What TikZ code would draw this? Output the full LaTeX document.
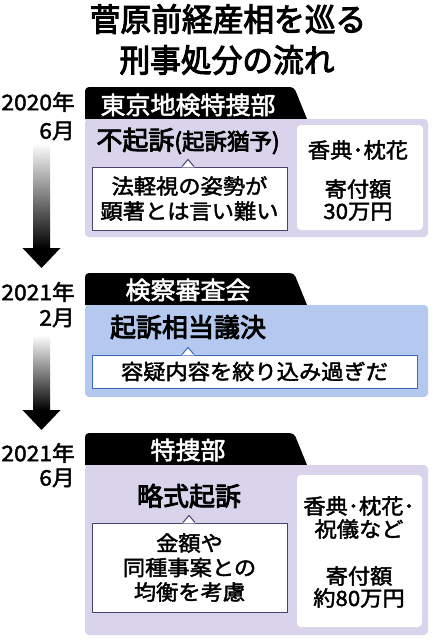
\documentclass[tikz,border=0pt]{standalone}
\usepackage{fontspec}
\setmainfont{Noto Sans CJK JP}[FakeStretch=1.06,FakeBold=2]
\newfontfamily\titlefont{Noto Sans CJK JP}[FakeStretch=0.96,FakeBold=3.2]
\newfontfamily\headfont{Noto Sans CJK JP}[FakeStretch=1.0,FakeBold=3.2]
\newfontfamily\tabfont{Noto Sans CJK JP}[FakeStretch=1.02,FakeBold=2]
\definecolor{lav}{RGB}{217,212,235}
\definecolor{skyp}{RGB}{180,200,240}
\definecolor{lavline}{RGB}{75,65,110}
\definecolor{skyline}{RGB}{60,105,190}
% notch of a callout box, pointing up
\newcommand\notch[2]{%
  \fill[white] ([xshift=-6.5pt,yshift=-0.8pt]#1) -- ([yshift=7pt]#1) -- ([xshift=6.5pt,yshift=-0.8pt]#1) -- cycle;
  \draw[#2,line width=1pt] ([xshift=-6pt]#1) -- ([yshift=7pt]#1) -- ([xshift=6pt]#1);}
\tikzset{
  titletext/.style={font=\titlefont\fontsize{32}{32}\selectfont,inner sep=0pt},
  tabtext/.style={text=white,font=\tabfont\fontsize{24.5}{24}\selectfont,inner sep=0pt},
  headtext/.style={font=\headfont\fontsize{26}{26}\selectfont,inner sep=0pt},
  bodytext/.style={font=\fontsize{21}{22}\selectfont,align=center,inner sep=0pt},
  yeartext/.style={font=\fontsize{21.5}{20}\selectfont,anchor=east,inner sep=0pt},
  callout/.style={draw=#1,fill=white,line width=1pt,inner sep=0pt,align=center,
    font=\fontsize{21}{25}\selectfont},
  infobox/.style={fill=white,rounded corners=4pt,inner sep=0pt},
  shaft/.style={top color=white,middle color=black!80,bottom color=black},
}
\begin{document}
\begin{tikzpicture}[x=1pt,y=-1pt]
\useasboundingbox (0,0) rectangle (433,640);
\node[titletext] (title1) at (228,19) {菅原前経産相を巡る};
\node[titletext] (title2) at (227,60) {刑事処分の流れ};

% 2020 June
\node[yeartext] (y1) at (75,102) {2020年};
\node[yeartext] (m1) at (75,131) {6月};
\fill (85,119) [rounded corners=4pt] -- (85,87) -- (294,87) [sharp corners] -- (307,119) -- cycle;
\fill[lav,rounded corners=4pt] (85,119) rectangle (428,237);
\node[tabtext] (tab1) at (188,105) {東京地検特捜部};
\node[headtext] (h1) at (188,141) {不起訴\fontsize{22.5}{22}\selectfont(起訴猶予)};
\node[callout=lavline,minimum width=195,minimum height=63] (c1) at (189.5,198.5) {法軽視の姿勢が\\顕著とは言い難い};
\coordinate (c1p) at (c1.north -| h1.south);
\notch{c1p}{lavline}
\node[infobox,minimum width=126,minimum height=105] (r1) at (360,177.5) {};
\node[bodytext] (r1a) at (358,150) {香典･枕花};
\node[bodytext] (r1b) at (358,200) {寄付額\\30万円};

% 2021 February
\node[yeartext] (y2) at (75,292) {2021年};
\node[yeartext] (m2) at (75,318) {2月};
\fill (85,305) [rounded corners=4pt] -- (85,273) -- (294,273) [sharp corners] -- (307,305) -- cycle;
\fill[skyp,rounded corners=4pt] (85,305) rectangle (428,397);
\node[tabtext] (tab2) at (188,290) {検察審査会};
\node[headtext] (h2) at (188,327) {起訴相当議決};
\node[callout=skyline,minimum width=325,minimum height=33] (c2) at (254.5,371.5) {容疑内容を絞り込み過ぎだ};
\coordinate (c2p) at (c2.north -| h2.south);
\notch{c2p}{skyline}

% 2021 June
\node[yeartext] (y3) at (75,453) {2021年};
\node[yeartext] (m3) at (75,478) {6月};
\fill (85,465) [rounded corners=4pt] -- (85,433) -- (294,433) [sharp corners] -- (307,465) -- cycle;
\fill[lav,rounded corners=4pt] (85,465) rectangle (428,635);
\node[tabtext] (tab3) at (188,450) {特捜部};
\node[headtext] (h3) at (189,496) {略式起訴};
\node[callout=lavline,minimum width=195,minimum height=89,font=\fontsize{21}{24.5}\selectfont] (c3) at (189.5,567.5) {金額や\\同種事案との\\均衡を考慮};
\coordinate (c3p) at (c3.north -| h3.south);
\notch{c3p}{lavline}
\node[infobox,minimum width=125,minimum height=152] (r3) at (359.5,551) {};
\node[bodytext,font=\fontsize{21}{23}\selectfont] (r3a) at (359,517.5) {香典･枕花･\\祝儀など};
\node[bodytext] (r3b) at (359,587) {寄付額\\約80万円};

% time arrows
\coordinate (a1top) at (41.5,143);
\coordinate (a1tip) at (41.5,268);
\coordinate (a2top) at (41.5,335);
\coordinate (a2tip) at (41.5,430);
\foreach \s/\t in {a1top/a1tip,a2top/a2tip}{
  \shade[shaft] ([xshift=-8.5pt]\s) rectangle ([xshift=8.5pt,yshift=19.5pt]\t);
  \fill ([xshift=-19pt,yshift=20pt]\t) -- (\t) -- ([xshift=19pt,yshift=20pt]\t) -- cycle;
}
\end{tikzpicture}
\end{document}
